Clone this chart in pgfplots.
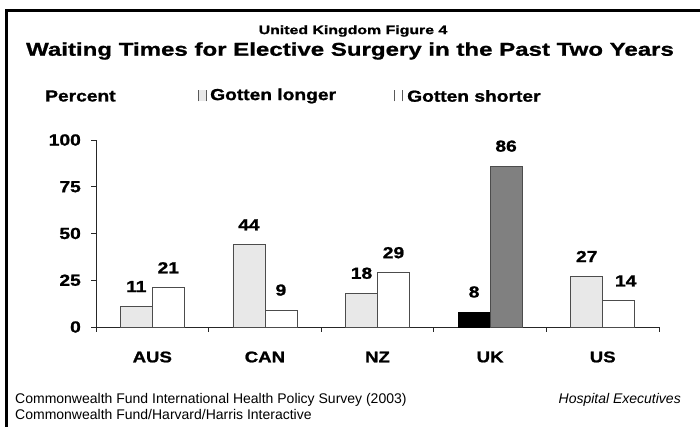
\documentclass[border=0pt]{standalone}
\usepackage{fontspec}
\setmainfont{Liberation Sans}
\newfontfamily\heavy{Liberation Sans}[UprightFont={* Bold}, FakeStretch=1.2, FakeBold=1.2]
\newfontfamily\titlefont{Liberation Sans}[UprightFont={* Bold}, FakeStretch=1.3, FakeBold=1.0]
\usepackage{pgfplots}
\pgfplotsset{compat=1.18}
\definecolor{lightbar}{HTML}{E8E8E8}
\definecolor{midgray}{HTML}{808080}
\begin{document}
\begin{tikzpicture}
\useasboundingbox (0,0) rectangle (700pt,427pt);
\draw[line width=3pt] (6.5pt,-5pt) -- (6.5pt,416pt) -- (705pt,416pt);
\node[font=\fontsize{12.2}{14}\titlefont] at (353pt,396pt) {United Kingdom Figure 4};
\node[font=\fontsize{18.5}{22}\titlefont] at (350pt,376pt) {Waiting Times for Elective Surgery in the Past Two Years};
\node[anchor=west, font=\fontsize{16}{18}\heavy, inner sep=0pt] at (45pt,331pt) {Percent};
\fill[lightbar] (198pt,325.5pt) rectangle (206pt,336.5pt);
\draw[black!65, line width=0.9pt] (198pt,325.5pt) -- (198pt,336.5pt) (206pt,325.5pt) -- (206pt,336.5pt);
\node[anchor=west, font=\fontsize{16}{18}\heavy, inner sep=0pt] at (210pt,331pt) {Gotten longer};
\fill[white] (394pt,325.5pt) rectangle (402pt,336.5pt);
\draw[black!65, line width=0.9pt] (394pt,325.5pt) -- (394pt,336.5pt) (402pt,325.5pt) -- (402pt,336.5pt);
\node[anchor=west, font=\fontsize{16}{18}\heavy, inner sep=0pt] at (407pt,331pt) {Gotten shorter};
\node[anchor=west, font=\fontsize{14}{16}\selectfont, inner sep=0pt] at (15pt,27pt) {Commonwealth Fund International Health Policy Survey (2003)};
\node[anchor=west, font=\fontsize{14}{16}\selectfont, inner sep=0pt] at (15pt,13pt) {Commonwealth Fund/Harvard/Harris Interactive};
\node[anchor=east, font=\fontsize{14}{16}\selectfont\itshape, inner sep=0pt] at (681pt,27pt) {Hospital Executives};
\begin{axis}[
  scale only axis, width=563pt, height=187pt,
  at={(96pt,100pt)}, anchor=south west,
  xmin=-0.5, xmax=4.5, ymin=0, ymax=100,
  axis x line=bottom, axis y line=left,
  x axis line style={-}, y axis line style={-},
  axis line style={black!85, line width=0.8pt},
  tick style={black!85, line width=0.8pt},
  tick align=outside, major tick length=5pt,
  ytick={0,25,50,75,100},
  /pgf/number format/assume math mode=true,
  yticklabel style={font=\fontsize{16}{18}\heavy, anchor=east, inner sep=0pt, xshift=-10pt},
  xtick={-0.5,0.5,1.5,2.5,3.5,4.5}, xticklabels={},
  extra x ticks={0,1,2,3,4},
  extra x tick labels={AUS,CAN,NZ,UK,US},
  extra x tick style={major tick length=0pt, xticklabel style={font=\fontsize{15.5}{18}\heavy, anchor=center, inner sep=0pt, yshift=-30pt}},
  ybar, bar width=32pt,
  nodes near coords,
  every node near coord/.append style={font=\fontsize{16}{18}\heavy, inner sep=0pt, anchor=south, yshift=14pt, text=black},
  clip=false,
]
\addplot[bar shift=-16pt, fill=lightbar, draw=black!70, line width=0.8pt] coordinates {(0,11) (1,44) (2,18) (4,27)};
\addplot[bar shift=16pt, fill=white, draw=black!70, line width=0.8pt] coordinates {(0,21) (1,9) (2,29)};
\addplot[bar shift=16pt, fill=white, draw=black!70, line width=0.8pt, every node near coord/.append style={xshift=7pt}] coordinates {(4,14)};
\addplot[bar shift=-16pt, fill=black, draw=black, line width=0.8pt] coordinates {(3,8)};
\addplot[bar shift=16pt, fill=midgray, draw=black!70, line width=0.8pt] coordinates {(3,86)};
\end{axis}
\end{tikzpicture}
\end{document}
